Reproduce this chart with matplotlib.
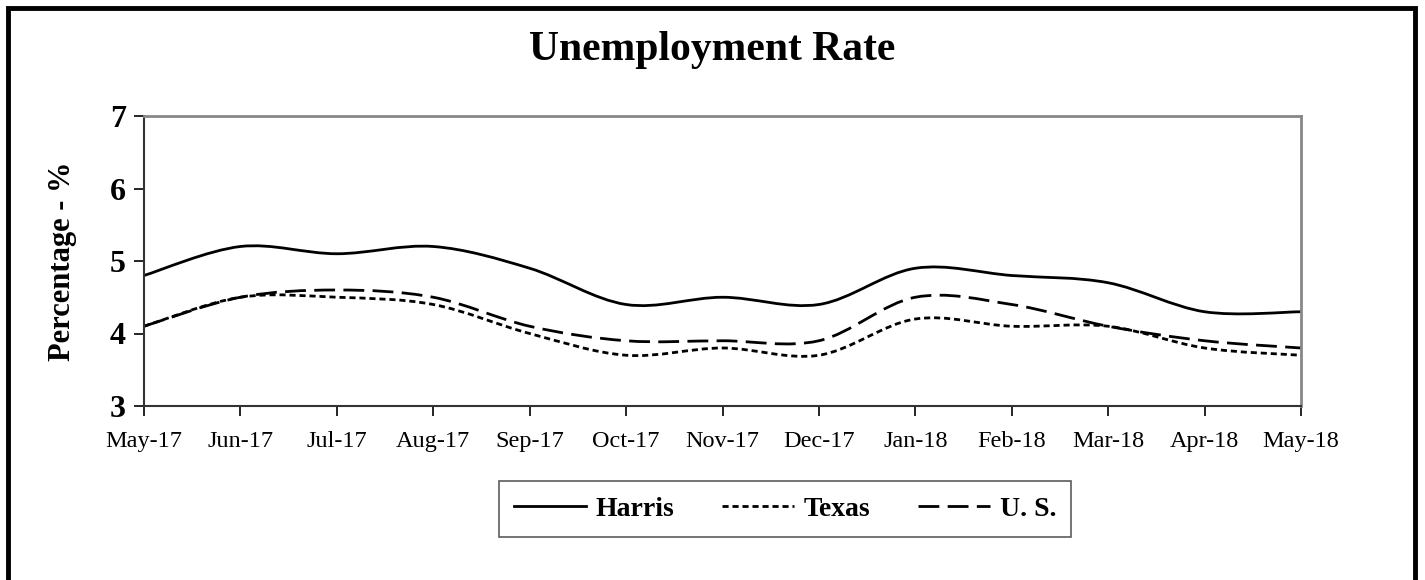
import numpy as np
import matplotlib.pyplot as plt
from matplotlib.path import Path
from matplotlib.patches import PathPatch, Rectangle
from matplotlib.lines import Line2D

plt.rcParams['font.family'] = ['Liberation Serif', 'DejaVu Serif']

# Data
months = ["May-17", "Jun-17", "Jul-17", "Aug-17", "Sep-17", "Oct-17", "Nov-17",
          "Dec-17", "Jan-18", "Feb-18", "Mar-18", "Apr-18", "May-18"]
harris = [4.8, 5.2, 5.1, 5.2, 4.9, 4.4, 4.5, 4.4, 4.9, 4.8, 4.7, 4.3, 4.3]
texas = [4.1, 4.5, 4.5, 4.4, 4.0, 3.7, 3.8, 3.7, 4.2, 4.1, 4.1, 3.8, 3.7]
us = [4.1, 4.5, 4.6, 4.5, 4.1, 3.9, 3.9, 3.9, 4.5, 4.4, 4.1, 3.9, 3.8]


def smooth_path(xs, ys):
    # Excel-style smoothed line: cubic bezier through points (Catmull-Rom controls)
    x = np.asarray(xs, float)
    y = np.asarray(ys, float)
    n = len(x)
    verts = [(x[0], y[0])]
    codes = [Path.MOVETO]
    for i in range(n - 1):
        p0 = i - 1 if i > 0 else i
        p3 = i + 2 if i + 2 < n else i + 1
        c1 = (x[i] + (x[i + 1] - x[p0]) / 6, y[i] + (y[i + 1] - y[p0]) / 6)
        c2 = (x[i + 1] - (x[p3] - x[i]) / 6, y[i + 1] - (y[p3] - y[i]) / 6)
        verts += [c1, c2, (x[i + 1], y[i + 1])]
        codes += [Path.CURVE4] * 3
    return Path(verts, codes)


fig = plt.figure(figsize=(14.25, 5.8), dpi=100)
ax = fig.add_axes([144 / 1425, 1 - 406 / 580, (1301 - 144) / 1425, (406 - 116) / 580])

xs = np.arange(len(months))
styles = [(harris, '-'), (texas, (0, (2.2, 1.4))), (us, (0, (7.5, 3)))]
for vals, ls in styles:
    ax.add_patch(PathPatch(smooth_path(xs, vals), fill=False, lw=2, ls=ls,
                           edgecolor='black', capstyle='butt'))

ax.set_xlim(0, len(months) - 1)
ax.set_ylim(3, 7)
ax.set_yticks([3, 4, 5, 6, 7])
ax.set_xticks(xs)
ax.set_xticklabels(months, fontsize=17.5)
ax.tick_params(axis='y', labelsize=23, direction='out', length=7, width=1.2, pad=6)
for lab in ax.get_yticklabels():
    lab.set_fontweight('bold')
ax.tick_params(axis='x', direction='out', length=7, width=1.2, pad=11)
ax.spines['left'].set_color('#333333')
ax.spines['bottom'].set_color('#333333')
ax.spines['left'].set_linewidth(1.5)
ax.spines['bottom'].set_linewidth(1.5)
ax.spines['top'].set_color('#888888')
ax.spines['right'].set_color('#888888')
ax.spines['top'].set_linewidth(2)
ax.spines['right'].set_linewidth(2)

ax.set_ylabel("Percentage - %", fontsize=22, fontweight='bold', labelpad=24)
fig.text(0.5, 1 - 50 / 580, "Unemployment Rate", ha='center', va='center',
         fontsize=30, fontweight='bold')

handles = [Line2D([], [], color='black', lw=2, ls=ls) for _, ls in styles]
leg = fig.legend(handles, ["Harris", "Texas", "U. S."], ncol=3, loc='center',
                 bbox_to_anchor=(785 / 1425, 1 - 509 / 580), frameon=True,
                 fancybox=False, edgecolor='#333333', handlelength=2.6,
                 columnspacing=1.7, handletextpad=0.35, borderpad=0.55,
                 prop={'size': 20, 'weight': 'bold'})
leg.get_frame().set_linewidth(1.2)

# outer border of the chart
fig.patches.append(Rectangle((8 / 1425, -0.05), (1415 - 8) / 1425, 1.05 - 8 / 580,
                             transform=fig.transFigure, fill=False,
                             edgecolor='black', lw=3.5))

fig.savefig("out.png", dpi=100)
